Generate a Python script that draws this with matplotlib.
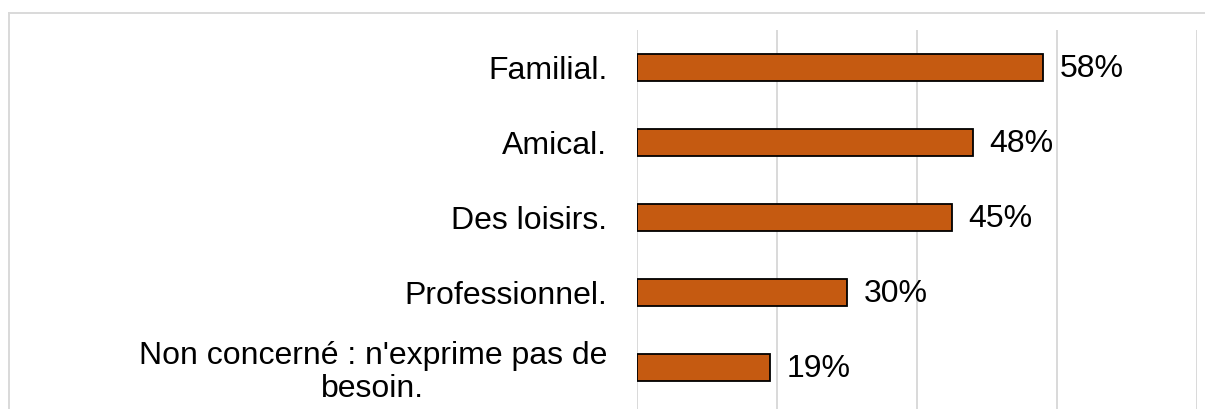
import matplotlib
matplotlib.use("Agg")
import matplotlib.pyplot as plt
from matplotlib.lines import Line2D

categories = [
    "Familial.",
    "Amical.",
    "Des loisirs.",
    "Professionnel.",
    "Non concerné : n'exprime pas de\nbesoin.",
]
values = [58, 48, 45, 30, 19]
value_labels = ["58%", "48%", "45%", "30%", "19%"]
x_ticks = [0, 20, 40, 60, 80]

W, H = 1205, 409
DPI = 100
plt.rcParams["font.family"] = ["Liberation Sans", "DejaVu Sans"]

fig = plt.figure(figsize=(W / DPI, H / DPI), dpi=DPI)
fig.patch.set_facecolor("white")

# chart frame (top and left edges visible)
border_c = "#d9d9d9"
fig.add_artist(Line2D([9 / W, 1.01], [1 - 13 / H, 1 - 13 / H], transform=fig.transFigure,
                      color=border_c, lw=1.4))
fig.add_artist(Line2D([9 / W, 9 / W], [-0.01, 1 - 13 / H], transform=fig.transFigure,
                      color=border_c, lw=1.4))

left, right = 637 / W, 1197 / W
top = 1 - 30 / H
ax = fig.add_axes([left, 0, right - left, top])

y = list(range(len(categories)))
ax.barh(y, values, height=0.36, color="#C55A11", edgecolor="black", linewidth=1.3, zorder=3)

ax.set_xlim(0, 80)
ax.set_ylim(4.5 + 4 / 75, -0.5)
ax.set_xticks(x_ticks)
ax.xaxis.grid(True, color="#d9d9d9", linewidth=1.4, zorder=0)
ax.tick_params(axis="x", bottom=False, labelbottom=False)
ax.set_yticks(y)
ax.set_yticklabels(categories, fontsize=23)
ax.tick_params(axis="y", length=0, pad=21.5)
for lab in ax.get_yticklabels():
    lab.set_multialignment("center")
    lab.set_linespacing(1.15)
for s in ax.spines.values():
    s.set_visible(False)

for yi, v, t in zip(y, values, value_labels):
    ax.annotate(t, xy=(v, yi), xytext=(12, -1), textcoords="offset points",
                ha="left", va="center", fontsize=23, color="black")

fig.savefig("out.png", dpi=DPI, facecolor="white")
